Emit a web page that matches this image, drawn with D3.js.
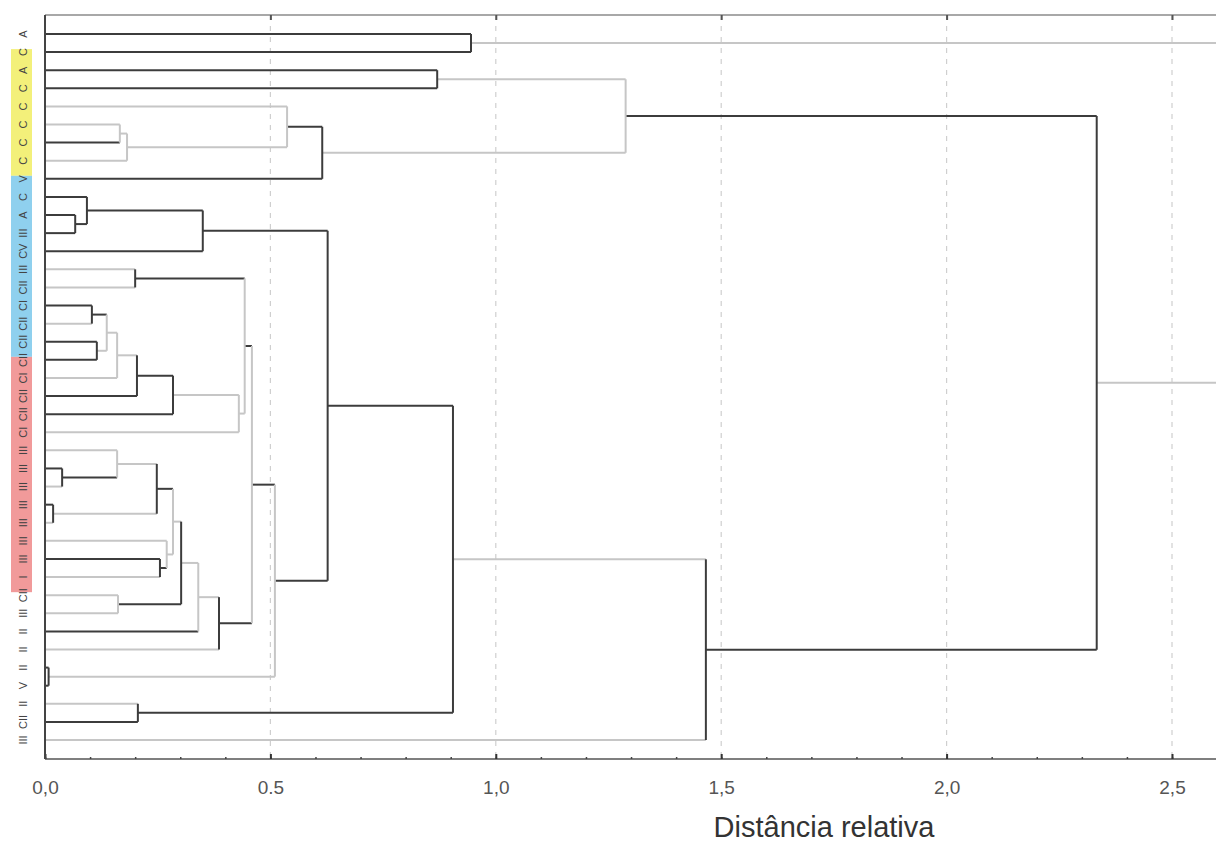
<!DOCTYPE html>
<meta charset="utf-8">
<script src="https://cdn.jsdelivr.net/npm/d3@7"></script>
<style>
body{margin:0;background:#fff;}
text{font-family:"Liberation Sans",Arial,sans-serif;}
</style>
<body>
<script>
// leaf labels, top to bottom
var leafLabels=["A","C","A","C","C","C","C","C","V","C",
                "A","III","CV","III","CII","CI","CII","CII","CII","CI",
                "CII","CII","CI","III","III","III","III","III","III","III",
                "I","CII","III","II","II","II","V","II","CII","III"];
// merges: [child a, child b, distance]; new cluster id = 40 + row index
var mergeA=[10,  9, 41,  5, 43,  4, 45,  2, 47,  0, 13, 15, 17, 51, 53, 54, 55, 56, 50, 24,
            23, 26, 60, 29, 28, 62, 31, 65, 67, 68, 58, 35, 70, 42, 37, 73, 75, 48, 49];
var mergeB=[11, 40, 12,  6,  7, 44,  8,  3, 46,  1, 14, 16, 18, 52, 19, 20, 21, 22, 57, 25,
            59, 27, 61, 30, 63, 64, 32, 66, 33, 34, 69, 36, 71, 72, 38, 74, 39, 76, 77];
var mergeDist=[0.067,0.093,0.350,0.166,0.182,0.537,0.615,0.870,1.288,0.945,
               0.200,0.104,0.115,0.137,0.160,0.204,0.284,0.430,0.443,0.038,
               0.160,0.018,0.248,0.255,0.270,0.284,0.162,0.302,0.340,0.386,
               0.459,0.008,0.510,0.627,0.206,0.905,1.466,2.333,2.800];
var tickVals=[0,0.5,1,1.5,2,2.5];
var tickLabels=["0,0","0.5","1,0","1,5","2,0","2,5"];
// coloured label bands, bounded by leaf rows
var groups=[{name:"g1",from:1,to:8,color:"#f3f07a"},
            {name:"g2",from:8,to:18,color:"#8fd0ee"},
            {name:"g3",from:18,to:31,color:"#f19a9a"}];
var axisTitle="Distância relativa";

// segments drawn in light grey (the rest dark)
var lightStem=[4,5,7,13,14,16,19,22,23,25,27,28,30,31,32,34,37,39,
               43,44,46,47,49,52,53,54,56,57,60,61,64,65,67,68,71,75,77];
var lightBracket=[43,44,45,48,53,54,57,58,60,64,65,66,68,70,72];

var W=1216,H=843;
var svg=d3.select("body").append("svg").attr("width",W).attr("height",H);

var x=d3.scaleLinear().domain([0,2.5]).range([45,1172]);
var y=d3.scalePoint().domain(d3.range(leafLabels.length)).range([34,740]);
var yTop=15,yBottom=759;
var dark="#3c3c3c",light="#c6c6c6";

// node table
var nodes=[];
leafLabels.forEach(function(l,i){nodes.push({id:i,y:y(i),h:0});});
mergeA.forEach(function(a,k){
  var b=mergeB[k];
  var n={id:40+k,a:a,b:b,h:mergeDist[k],y:(nodes[a].y+nodes[b].y)/2};
  nodes.push(n);
  nodes[a].parent=n;nodes[b].parent=n;
});

// colour bands behind labels
groups.forEach(function(g){
  svg.append("rect")
    .attr("x",11).attr("width",21)
    .attr("y",y(g.from)-3)
    .attr("height",y(g.to)-y(g.from))
    .attr("fill",g.color);
});

// grid
svg.append("g").selectAll("line").data(tickVals.slice(1)).enter().append("line")
  .attr("x1",function(d){return x(d);}).attr("x2",function(d){return x(d);})
  .attr("y1",yTop).attr("y2",yBottom)
  .attr("stroke","#cfcfcf").attr("stroke-width",1.2).attr("stroke-dasharray","5,6");

// frame
svg.append("line").attr("x1",x(0)).attr("x2",W).attr("y1",yTop).attr("y2",yTop)
  .attr("stroke","#a8a8a8").attr("stroke-width",2);
svg.append("line").attr("x1",x(0)).attr("x2",W).attr("y1",yBottom).attr("y2",yBottom)
  .attr("stroke","#555").attr("stroke-width",1.6);

// bottom axis with minor ticks
var xAxis=d3.axisBottom(x).tickValues(d3.range(0,2.65,0.1)).tickSize(-2).tickFormat("");
var ax=svg.append("g").attr("transform","translate(0,"+yBottom+")").call(xAxis);
ax.select(".domain").remove();
ax.selectAll("line").attr("stroke","#444").attr("stroke-width",1.5);
var major=d3.axisBottom(x).tickValues(tickVals).tickSize(-5)
  .tickFormat(function(d,i){return tickLabels[i];}).tickPadding(22);
var ax2=svg.append("g").attr("transform","translate(0,"+yBottom+")").call(major);
ax2.select(".domain").remove();
ax2.selectAll("line").attr("stroke","#333").attr("stroke-width",2);
ax2.selectAll("text").attr("font-size",19).attr("fill","#555")
  .style("font-family","Liberation Sans, Arial, sans-serif");
var topAxis=d3.axisTop(x).tickValues(tickVals.slice(1)).tickSize(-5).tickFormat("");
var ax3=svg.append("g").attr("transform","translate(0,"+yTop+")").call(topAxis);
ax3.select(".domain").remove();
ax3.selectAll("line").attr("stroke","#555").attr("stroke-width",2);

// dendrogram links
var g=svg.append("g").attr("fill","none").attr("stroke-width",2);
nodes.forEach(function(n){
  if(n.parent){
    g.append("line")
      .attr("x1",x(n.h)).attr("x2",x(n.parent.h))
      .attr("y1",n.y).attr("y2",n.y)
      .attr("stroke",lightStem.indexOf(n.id)>=0?light:dark);
  }
  if(n.a!==undefined){
    g.append("line")
      .attr("x1",x(n.h)).attr("x2",x(n.h))
      .attr("y1",nodes[n.a].y).attr("y2",nodes[n.b].y)
      .attr("stroke",lightBracket.indexOf(n.id)>=0?light:dark);
  }
});

// left axis
svg.append("line").attr("x1",x(0)).attr("x2",x(0)).attr("y1",yTop).attr("y2",yBottom)
  .attr("stroke","#444").attr("stroke-width",2);

// leaf labels (rotated)
svg.append("g").selectAll("text").data(leafLabels).enter().append("text")
  .attr("transform",function(d,i){return "translate(27,"+y(i)+") rotate(-90)";})
  .attr("text-anchor","middle")
  .attr("font-size",11)
  .attr("fill","#444")
  .text(function(d){return d;});

svg.append("text")
  .attr("x",824).attr("y",837)
  .attr("text-anchor","middle")
  .attr("font-size",29)
  .attr("fill","#333")
  .text(axisTitle);
</script>
</body>
</html>
